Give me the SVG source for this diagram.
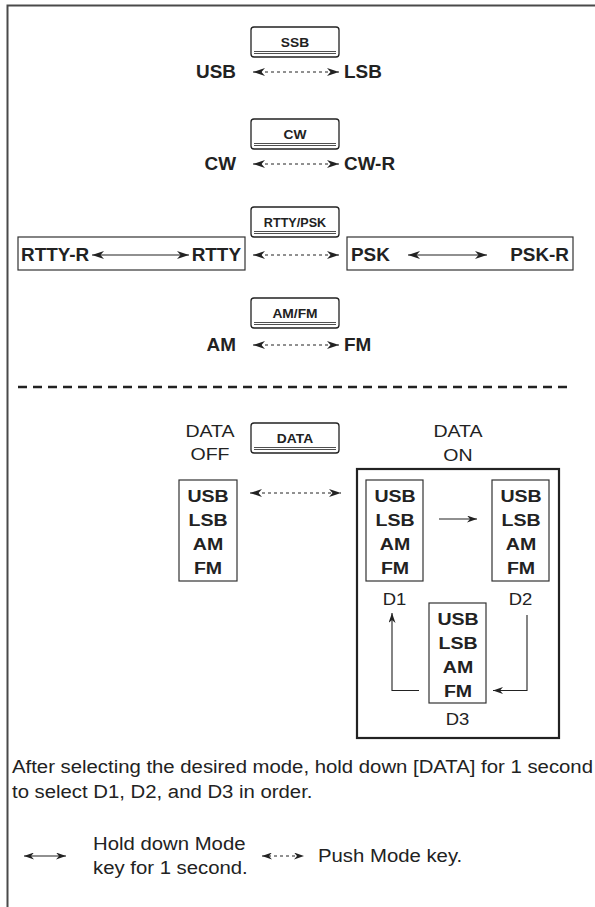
<svg xmlns="http://www.w3.org/2000/svg" width="595" height="907" viewBox="0 0 595 907">
<defs>
<style>
.frame{fill:none;stroke:#4a4a4a;stroke-width:2}
.key{fill:#fff;stroke:#222;stroke-width:1.3}
.kl{font-family:"Liberation Sans",Arial,sans-serif;font-weight:bold;font-size:12px;fill:#222;text-anchor:middle}
.kline{stroke:#222;stroke-width:0.8}
.big{font-family:"Liberation Sans",Arial,sans-serif;font-weight:bold;font-size:17.5px;fill:#222}
.mode{font-family:"Liberation Sans",Arial,sans-serif;font-weight:bold;font-size:17px;fill:#222;text-anchor:middle}
.reg{font-family:"Liberation Sans",Arial,sans-serif;font-size:17px;fill:#222}
.lab{font-family:"Liberation Sans",Arial,sans-serif;font-size:16.5px;fill:#222;text-anchor:middle}
.note{font-family:"Liberation Sans",Arial,sans-serif;font-size:18px;fill:#222}
.box{fill:none;stroke:#333;stroke-width:1.2}
.dash{fill:none;stroke:#222;stroke-width:1;stroke-dasharray:3,3}
.solid{fill:none;stroke:#222;stroke-width:1.1}
</style>
<marker id="ah" viewBox="0 0 12 8" refX="12" refY="4" markerWidth="12" markerHeight="8" orient="auto-start-reverse" markerUnits="userSpaceOnUse">
<path d="M0,0 L12,4 L0,8 L3.5,4 z" fill="#222"/>
</marker>
<marker id="ahs" viewBox="0 0 10 7" refX="10" refY="3.5" markerWidth="10" markerHeight="7" orient="auto-start-reverse" markerUnits="userSpaceOnUse">
<path d="M0,0 L10,3.5 L0,7 L3,3.5 z" fill="#222"/>
</marker>
</defs>
<rect width="595" height="907" fill="#fff"/>
<path class="frame" d="M7.5,907 V5.5 H595"/>

<g id="key-ssb"><rect class="key" x="251" y="27" width="88" height="30" rx="3"/><text class="kl" transform="matrix(1.15 0 0 1 295 47)">SSB</text><line class="kline" x1="254" y1="51.5" x2="336" y2="51.5"/><line class="kline" x1="254" y1="53.5" x2="336" y2="53.5"/></g>
<g id="key-cw"><rect class="key" x="251" y="119" width="88" height="30" rx="3"/><text class="kl" transform="matrix(1.15 0 0 1 295 139)">CW</text><line class="kline" x1="254" y1="143.5" x2="336" y2="143.5"/><line class="kline" x1="254" y1="145.5" x2="336" y2="145.5"/></g>
<g id="key-rtty"><rect class="key" x="251" y="207" width="88" height="30" rx="3"/><text class="kl" transform="matrix(1.05 0 0 1 295 227)">RTTY/PSK</text><line class="kline" x1="254" y1="231.5" x2="336" y2="231.5"/><line class="kline" x1="254" y1="233.5" x2="336" y2="233.5"/></g>
<g id="key-amfm"><rect class="key" x="251" y="298" width="88" height="30" rx="3"/><text class="kl" transform="matrix(1.15 0 0 1 295 318)">AM/FM</text><line class="kline" x1="254" y1="322.5" x2="336" y2="322.5"/><line class="kline" x1="254" y1="324.5" x2="336" y2="324.5"/></g>
<g id="key-data"><rect class="key" x="251" y="423" width="88" height="30" rx="3"/><text class="kl" transform="matrix(1.15 0 0 1 295 443)">DATA</text><line class="kline" x1="254" y1="447.5" x2="336" y2="447.5"/><line class="kline" x1="254" y1="449.5" x2="336" y2="449.5"/></g>

<g id="usb"><text class="big" transform="matrix(1.08 0 0 1 236 78)" text-anchor="end">USB</text></g>
<g id="lsb"><text class="big" transform="matrix(1.08 0 0 1 344 78)">LSB</text></g>
<g id="cw"><text class="big" transform="matrix(1.08 0 0 1 236 170)" text-anchor="end">CW</text></g>
<g id="cwr"><text class="big" transform="matrix(1.08 0 0 1 344 170)">CW-R</text></g>
<g id="rtty-box"><rect class="box" x="18" y="237" width="227" height="33"/><text class="big" transform="matrix(1.08 0 0 1 21 261)">RTTY-R</text><text class="big" transform="matrix(1.08 0 0 1 241 261)" text-anchor="end">RTTY</text></g>
<g id="psk-box"><rect class="box" x="347" y="237" width="226" height="33"/><text class="big" transform="matrix(1.08 0 0 1 351 261)">PSK</text><text class="big" transform="matrix(1.08 0 0 1 569 261)" text-anchor="end">PSK-R</text></g>
<g id="am"><text class="big" transform="matrix(1.08 0 0 1 236 351)" text-anchor="end">AM</text></g>
<g id="fm"><text class="big" transform="matrix(1.08 0 0 1 344 351)">FM</text></g>

<line x1="18" y1="387" x2="572" y2="387" stroke="#222" stroke-width="2.4" stroke-dasharray="9,6"/>

<g id="data-off-label"><text class="reg" transform="matrix(1.15 0 0 1 210 437)" text-anchor="middle">DATA</text><text class="reg" transform="matrix(1.15 0 0 1 210 460)" text-anchor="middle">OFF</text></g>
<g id="data-on-label"><text class="reg" transform="matrix(1.15 0 0 1 458 437)" text-anchor="middle">DATA</text><text class="reg" transform="matrix(1.15 0 0 1 458 461)" text-anchor="middle">ON</text></g>

<g id="off-box"><rect class="box" x="179" y="480" width="58" height="101"/><text class="mode" transform="matrix(1.15 0 0 1 208 502)">USB</text><text class="mode" transform="matrix(1.15 0 0 1 208 526)">LSB</text><text class="mode" transform="matrix(1.15 0 0 1 208 550)">AM</text><text class="mode" transform="matrix(1.15 0 0 1 208 574)">FM</text></g>
<g id="on-box"><rect fill="none" stroke="#222" stroke-width="2.2" x="357" y="469" width="202" height="269"/></g>
<g id="d1"><rect class="box" x="366" y="480" width="57" height="101"/><text class="mode" transform="matrix(1.15 0 0 1 395 502)">USB</text><text class="mode" transform="matrix(1.15 0 0 1 395 526)">LSB</text><text class="mode" transform="matrix(1.15 0 0 1 395 550)">AM</text><text class="mode" transform="matrix(1.15 0 0 1 395 574)">FM</text><text class="lab" transform="matrix(1.12 0 0 1 394.5 605)">D1</text></g>
<g id="d2"><rect class="box" x="492" y="480" width="57" height="101"/><text class="mode" transform="matrix(1.15 0 0 1 521 502)">USB</text><text class="mode" transform="matrix(1.15 0 0 1 521 526)">LSB</text><text class="mode" transform="matrix(1.15 0 0 1 521 550)">AM</text><text class="mode" transform="matrix(1.15 0 0 1 521 574)">FM</text><text class="lab" transform="matrix(1.12 0 0 1 520.5 605)">D2</text></g>
<g id="d3"><rect class="box" x="429" y="603" width="57" height="100"/><text class="mode" transform="matrix(1.15 0 0 1 458 625)">USB</text><text class="mode" transform="matrix(1.15 0 0 1 458 649)">LSB</text><text class="mode" transform="matrix(1.15 0 0 1 458 673)">AM</text><text class="mode" transform="matrix(1.15 0 0 1 458 697)">FM</text><text class="lab" transform="matrix(1.12 0 0 1 457.5 725)">D3</text></g>

<g id="connectors">
<line class="dash" x1="253" y1="72" x2="339" y2="72" marker-start="url(#ah)" marker-end="url(#ah)"/>
<line class="dash" x1="253" y1="164" x2="339" y2="164" marker-start="url(#ah)" marker-end="url(#ah)"/>
<line class="solid" x1="92" y1="255" x2="189" y2="255" marker-start="url(#ah)" marker-end="url(#ah)"/>
<line class="dash" x1="253" y1="255" x2="339" y2="255" marker-start="url(#ah)" marker-end="url(#ah)"/>
<line class="solid" x1="408" y1="255" x2="487" y2="255" marker-start="url(#ah)" marker-end="url(#ah)"/>
<line class="dash" x1="253" y1="345" x2="339" y2="345" marker-start="url(#ah)" marker-end="url(#ah)"/>
<line class="dash" x1="250" y1="493" x2="341" y2="493" marker-start="url(#ah)" marker-end="url(#ah)"/>
<line class="solid" x1="439" y1="519" x2="477" y2="519" marker-end="url(#ahs)"/>
<path class="solid" d="M527,615 V690.5 H493" marker-end="url(#ahs)"/>
<path class="solid" d="M419,690.5 H392 V613" marker-end="url(#ahs)"/>
<line class="solid" x1="24" y1="856" x2="66" y2="856" marker-start="url(#ahs)" marker-end="url(#ahs)"/>
<line class="dash" x1="262" y1="856" x2="304" y2="856" stroke-dasharray="2.5,2" marker-start="url(#ahs)" marker-end="url(#ahs)"/>
</g>

<g id="note"><text class="note" transform="matrix(1.13 0 0 1 12 773)">After selecting the desired mode, hold down [DATA] for 1 second</text><text class="note" transform="matrix(1.13 0 0 1 12 798)">to select D1, D2, and D3 in order.</text></g>
<g id="legend"><text class="note" transform="matrix(1.13 0 0 1 93 850)">Hold down Mode</text><text class="note" transform="matrix(1.13 0 0 1 93 874)">key for 1 second.</text><text class="note" transform="matrix(1.13 0 0 1 318 862)">Push Mode key.</text></g>
</svg>
